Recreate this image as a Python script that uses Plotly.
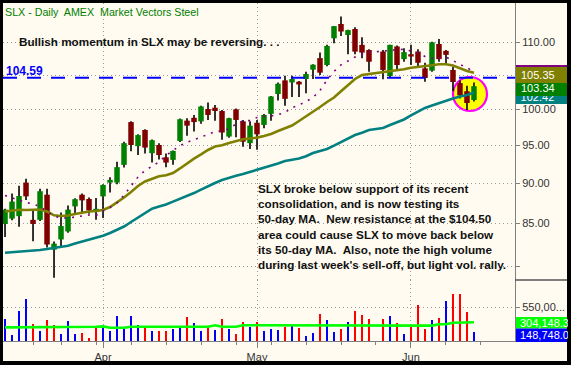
import math
import plotly.graph_objects as go

# ---------------- data ----------------
month_pos = [14, 36, 58]
month_labels = ["Apr", "May", "Jun"]
week_pos = [4, 8, 13, 18, 23, 28, 33, 38, 43, 48, 53, 58, 63, 68]

opens = [84.95, 85.6, 85.9, 90.1, 85.45, 85.45, 88.56, 81.9, 83.1, 84.05,
         87.1, 88.56, 88.03, 86.5, 88.35, 90.1, 90.1, 92.4, 98.2, 94.9,
         97.1, 93.95, 95.05, 93.4, 93.06, 95.6, 98.4, 98.8, 98.3, 100.04,
         100.23, 99.76, 96.2, 100.0, 98.3, 95.3, 98.1, 97.8, 99.35, 102.2,
         104.2, 103.9, 104.0, 104.4, 105.8, 107.55, 106.5, 110.63, 112.9, 111.15,
         112.1, 109.6, 108.8, None, 108.56, 104.85, 109.35, 107.4, 108.15, 108.56,
         106.0, 105.65, 109.74, 108.67, 105.76, 103.8, 102.6, 101.33]
highs = [86.8, 88.7, 89.7, 90.6, 86.7, 89.3, 89.3, 82.85, 86.35, 87.2,
         88.1, 88.7, 88.2, 88.15, 89.9, 90.8, 92.8, 95.5, 98.3, 96.5,
         97.2, 95.8, 95.3, 93.9, 94.3, 98.7, 98.75, 99.2, 100.5, 100.96,
         100.63, 99.9, 98.8, 100.1, 98.5, 98.3, 98.5, 99.35, 101.9, 103.9,
         104.9, 104.9, 104.1, 105.5, 106.6, 108.4, 109.6, 112.6, 114.1, 112.0,
         112.4, 110.8, 108.9, None, 108.8, 109.6, 109.5, 109.06, 109.6, 108.9,
         106.85, 110.1, 110.5, 108.8, 106.25, 104.2, 103.4, 103.9]
lows = [83.4, 85.4, 84.6, 87.9, 82.9, 85.3, 82.15, 78.7, 82.3, 83.9,
        86.3, 86.3, 86.2, 85.45, 85.67, 88.85, 89.9, 92.05, 94.2, 93.7,
        93.9, 92.7, 93.1, 92.1, 92.4, 95.45, 96.3, 96.9, 97.95, 98.5,
        98.4, 95.75, 96.05, 96.1, 94.8, 94.5, 94.4, 97.35, 98.4, 101.26,
        100.5, 101.75, 101.75, 102.3, 104.4, 105.0, 106.3, 109.85, 111.0, 108.15,
        108.15, 107.55, 105.5, None, 104.35, 104.6, 105.8, 107.0, 106.5, 106.15,
        103.98, 105.5, 107.0, 106.5, 102.6, 101.56, 99.9, 101.1]
closes = [86.7, 87.7, 88.4, 88.35, 84.95, 89.0, 82.5, 82.6, 84.7, 86.7,
          88.0, 87.85, 86.6, 86.8, 89.8, 90.45, 92.1, 95.3, 95.05, 96.4,
          94.7, 95.7, 93.7, 92.7, 94.25, 98.6, 97.7, 98.2, 100.4, 99.2,
          99.76, 96.75, 98.75, 98.5, 95.5, 97.7, 96.5, 99.2, 101.84, 103.7,
          101.5, 104.4, 103.6, 105.15, 106.55, 105.35, 109.43, 112.56, 111.7, 111.93,
          108.55, 108.4, 107.0, None, 105.76, 109.6, 106.5, 108.47, 107.8, 106.85,
          104.55, 110.0, 107.4, 108.05, 103.96, 102.0, 100.9, 103.34]

ma10 = [88.46, 88.15, 87.84, 87.59, 87.4, 87.08, 86.47, 85.92, 85.67, 85.67,
        85.8, 85.92, 86.04, 85.98, 86.53, 86.96, 87.52, 88.52, 89.66, 90.82,
        91.66, 92.25, 92.78, 93.64, 94.25, 94.97, 95.42, 95.73, 96.14, 96.48,
        96.9, 96.96, 97.27, 97.93, 98.35, 98.42, 98.84, 98.98, 99.05, 99.23,
        99.55, 100.22, 100.61, 101.12, 101.69, 102.71, 104.26, 105.53, 106.53, 107.11,
        107.72, 108.19, 108.49, 108.54, 108.6, 108.74, 108.84, 108.91, 108.65, 108.38,
        107.79, 107.51, 107.56, 107.72, 107.18, 106.57, 106.04, 105.59]
ma20 = [86.48, 86.6, 86.69, 86.65, 86.65, 86.71, 86.47, 86.0, 85.92, 85.97,
        86.16, 86.35, 86.47, 86.53, 86.65, 87.02, 87.58, 88.21, 88.9, 89.66,
        90.24, 90.6, 90.91, 91.04, 91.34, 91.93, 92.62, 93.22, 93.78, 94.38,
        94.85, 95.02, 95.32, 95.59, 95.83, 95.94, 96.05, 96.28, 96.56, 96.96,
        97.31, 97.72, 98.35, 98.98, 99.69, 100.33, 101.04, 101.69, 102.61, 103.45,
        104.41, 105.0, 105.15, 105.26, 105.41, 105.56, 105.68, 105.86, 106.1, 106.2,
        106.28, 106.46, 106.61, 106.61, 106.43, 106.0, 105.6, 105.35]
ma50 = [81.55, 81.6, 81.64, 81.7, 81.78, 81.86, 81.98, 82.1, 82.2, 82.36,
        82.62, 82.85, 83.09, 83.3, 83.55, 83.87, 84.22, 84.64, 85.19, 85.71,
        86.28, 86.82, 87.08, 87.33, 87.69, 88.02, 88.4, 88.77, 89.21, 89.66,
        90.05, 90.43, 90.73, 90.98, 91.21, 91.47, 91.73, 92.05, 92.31, 92.58,
        92.91, 93.04, 93.24, 93.54, 93.98, 94.25, 94.51, 94.97, 95.46, 96.0,
        96.41, 96.73, 97.1, 97.24, 97.38, 97.79, 98.14, 98.56, 99.13, 99.62,
        100.19, 100.54, 100.9, 101.19, 101.55, 101.85, 102.06, 102.42]

volume = [356000, 97000, 485000, 680000, 275000, 162000, 340000, 259000, 113000, 324000,
          113000, 129000, 49000, 227000, 243000, 162000, 404000, 210000, 404000, 259000,
          227000, 162000, 162000, 162000, 194000, 210000, 388000, 291000, 162000, 227000,
          178000, 356000, 194000, 113000, 307000, 227000, 307000, 162000, 194000, 178000,
          227000, 259000, 210000, 81000, 129000, 437000, 340000, 146000, 194000, 307000,
          485000, 421000, 356000, None, 356000, 404000, 291000, 113000, 227000, 582000,
          194000, 340000, 372000, 647000, 760000, 760000, 469000, 148748]
vol_up = [1, 1, 1, 1, 0, 1, 0, 0, 1, 1,
          1, 0, 0, 0, 1, 1, 1, 1, 1, 1,
          0, 1, 0, 0, 1, 1, 0, 1, 1, 0,
          1, 0, 1, 0, 0, 1, 0, 1, 1, 1,
          0, 1, 0, 1, 1, 0, 1, 1, 0, 1,
          0, 0, 0, None, 0, 1, 0, 1, 0, 0,
          0, 1, 0, 1, 0, 0, 0, 1]
vol_avg = [220000, 220000, 220000, 220000, 220000, 231000, 231000, 231000, 231000, 231000,
           231000, 231000, 231000, 231000, 237000, 215000, 215000, 215000, 231000, 231000,
           231000, 231000, 231000, 231000, 231000, 231000, 231000, 231000, 231000, 231000,
           254000, 231000, 231000, 231000, 254000, 254000, 254000, 254000, 254000, 254000,
           254000, 254000, 249000, 249000, 249000, 249000, 249000, 249000, 249000, 249000,
           249000, 249000, 249000, 249000, 249000, 249000, 249000, 249000, 249000, 249000,
           249000, 249000, 270000, 270000, 296000, 296000, 296000, 304148]

resistance = 104.59
price_ticks = [80, 85, 90, 95, 100, 105, 110]
price_tick_text = ["", "85.00", "90.00", "95.00", "100.00", "", "110.00"]
vol_ticks = [550000]
vol_tick_text = ["550,00..."]

# ---------------- helpers ----------------
W, H = 571, 365
FONT = "Liberation Sans, Arial, sans-serif"
BG = "#FFFBF0"


def px(x):
    return x / W


def py(y):
    return 1 - y / H


n = len(closes)
idx = list(range(n))
x_range = [-0.29, 72.86]
X0_PX, X1_PX = 3, 515
Y_TOP_PX, Y_BOT_PX = 3, 280

y_lo = math.log10(110 * math.exp(-(280 - 42.3) / 703))
y_hi = math.log10(110 * math.exp((42.3 - 3) / 703))


def pix_to_x(xp):
    return x_range[0] + (xp - X0_PX) / (X1_PX - X0_PX) * (x_range[1] - x_range[0])


def pix_to_price(yp):
    frac = (Y_BOT_PX - yp) / (Y_BOT_PX - Y_TOP_PX)
    return 10 ** (y_lo + frac * (y_hi - y_lo))


fig = go.Figure()

# wicks
wx, wy = [], []
for i in idx:
    if highs[i] is None:
        continue
    wx += [i, i, None]
    wy += [lows[i], highs[i], None]
fig.add_trace(go.Scatter(x=wx, y=wy, mode="lines", line=dict(color="black", width=1.6),
                         xaxis="x", yaxis="y", hoverinfo="skip"))

# bodies
for up, col in [(True, "#008000"), (False, "#800000")]:
    bx, by = [], []
    for i in idx:
        if opens[i] is None:
            continue
        if (closes[i] >= opens[i]) == up:
            bx += [i, i, None]
            by += [opens[i], closes[i], None]
    fig.add_trace(go.Scatter(x=bx, y=by, mode="lines", line=dict(color=col, width=5.5),
                             xaxis="x", yaxis="y", hoverinfo="skip"))

# moving averages
fig.add_trace(go.Scatter(x=idx, y=ma50, mode="lines", line=dict(color="#008080", width=2.6),
                         xaxis="x", yaxis="y"))
fig.add_trace(go.Scatter(x=idx, y=ma20, mode="lines", line=dict(color="#808000", width=2.6),
                         xaxis="x", yaxis="y"))
fig.add_trace(go.Scatter(x=idx, y=ma10, mode="lines",
                         line=dict(color="#800080", width=1.6, dash="2px,6px"),
                         xaxis="x", yaxis="y"))

# resistance line
fig.add_trace(go.Scatter(x=x_range, y=[resistance, resistance], mode="lines",
                         line=dict(color="#0000FF", width=2, dash="14px,10px"),
                         xaxis="x", yaxis="y"))

# 50-day value label (partly hidden beneath the other badges, as in the reference)
fig.add_trace(go.Scatter(x=[pix_to_x(514.5)], y=[pix_to_price(98.5)], mode="text",
                         text=["  %.2f" % ma50[-1]], textposition="middle right",
                         textfont=dict(family=FONT, size=11, color="white"),
                         cliponaxis=False, xaxis="x", yaxis="y", hoverinfo="skip"))

# volume
vol_colors = ["#0000FF" if u == 1 else "#FF0000" for u in vol_up]
fig.add_trace(go.Bar(x=idx, y=volume, marker=dict(color=vol_colors, line=dict(width=0)),
                     width=0.34, xaxis="x2", yaxis="y2"))
fig.add_trace(go.Scatter(x=idx, y=vol_avg, mode="lines", line=dict(color="#00FF00", width=2.6),
                         xaxis="x2", yaxis="y2"))

grid = dict(showgrid=True, gridcolor="#9a9a9a", gridwidth=1, griddash="1px,3px",
            automargin=False)
tickfont = dict(family=FONT, size=11, color="#333333")

fig.update_layout(
    template="none",
    width=W, height=H, margin=dict(l=0, r=0, t=0, b=0, pad=0, autoexpand=False),
    paper_bgcolor=BG, plot_bgcolor=BG, showlegend=False, bargap=0,
    xaxis=dict(domain=[px(X0_PX), px(X1_PX)], range=x_range, anchor="y",
               tickvals=month_pos, showticklabels=False, ticks="",
               zeroline=False, showline=False, **grid),
    yaxis=dict(type="log", domain=[py(Y_BOT_PX), py(Y_TOP_PX)], range=[y_lo, y_hi], side="right",
               anchor="x", tickvals=price_ticks, ticktext=price_tick_text,
               ticks="outside", ticklen=4, tickcolor="#808080", tickfont=tickfont,
               showline=True, linecolor="#808080", linewidth=1, zeroline=False, **grid),
    xaxis2=dict(domain=[px(X0_PX), px(X1_PX)], range=x_range, anchor="y2",
                tickvals=month_pos, ticktext=month_labels, ticks="outside", ticklen=6,
                tickcolor="#808080", tickfont=tickfont, showline=True,
                linecolor="#808080", linewidth=1, zeroline=False,
                minor=dict(tickvals=week_pos, ticks="outside", ticklen=3,
                           tickcolor="#808080", showgrid=False),
                **grid),
    yaxis2=dict(domain=[py(341), py(Y_BOT_PX)], range=[0, 986800], side="right", anchor="x2",
                tickvals=vol_ticks, ticktext=vol_tick_text, ticks="outside", ticklen=4,
                tickcolor="#808080", tickfont=tickfont, showline=True,
                linecolor="#808080", linewidth=1, zeroline=False, **grid),
)

shapes = []
# highlight circle around last bars
shapes.append(dict(type="circle", xref="x", yref="paper",
                   x0=64.0, x1=68.86, y0=py(111), y1=py(77),
                   fillcolor="#FFFF00", line=dict(color="#FF00FF", width=2.2), layer="below"))
# value badges on price axis
badge = [("#800080", 65, 68), ("#008080", 90, 104), ("#008000", 83, 96), ("#808000", 67, 83)]
for k, (col, y0, y1) in enumerate(badge):
    shapes.append(dict(type="rect", xref="paper", yref="paper", x0=px(516), x1=px(567),
                       y0=py(y1), y1=py(y0), fillcolor=col, line=dict(width=0),
                       layer="below" if k == 1 else "above"))
# volume badges
for col, y0, y1 in [("#00FF00", 317, 328.5), ("#0000FF", 328.5, 342)]:
    shapes.append(dict(type="rect", xref="paper", yref="paper", x0=px(516), x1=px(567),
                       y0=py(y1), y1=py(y0), fillcolor=col, line=dict(width=0), layer="above"))
# panel separator on the axis strip
shapes.append(dict(type="line", xref="paper", yref="paper", x0=px(515), x1=px(567),
                   y0=py(280), y1=py(280), line=dict(color="#555555", width=1.5)))
# black frame
for x0, x1, y0, y1 in [(0, 3, 0, 365), (567, 571, 0, 365), (0, 571, 361, 365), (0, 571, 0, 3)]:
    shapes.append(dict(type="rect", xref="paper", yref="paper", x0=px(x0), x1=px(x1),
                       y0=py(y1), y1=py(y0), fillcolor="black", line=dict(width=0), layer="above"))
fig.update_layout(shapes=shapes)

bold = dict(family=FONT, size=11.7, color="#111111")
ann = []
ann.append(dict(x=px(3), y=py(12), xref="paper", yref="paper", xanchor="left", yanchor="middle",
                text="SLX - Daily  AMEX  Market Vectors Steel", showarrow=False,
                font=dict(family=FONT, size=10.7, color="#008000")))
ann.append(dict(x=px(17), y=py(42), xref="paper", yref="paper", xanchor="left", yanchor="middle",
                text="<b>Bullish momentum in SLX may be reversing. . .</b>", showarrow=False,
                font=bold))
ann.append(dict(x=px(4), y=math.log10(resistance), xref="paper", yref="y", xanchor="left",
                yanchor="bottom", yshift=-2, text="<b>%.2f</b>" % resistance, showarrow=False,
                font=dict(family=FONT, size=12, color="#0000FF")))
block = ("SLX broke below support of its recent<br>"
         "consolidation, and is now testing its<br>"
         "50-day MA.  New resistance at the $104.50<br>"
         "area could cause SLX to move back below<br>"
         "its 50-day MA.  Also, note the high volume<br>"
         "during last week's sell-off, but light vol. rally.")
ann.append(dict(x=px(256), y=py(180), xref="paper", yref="paper", xanchor="left", yanchor="top",
                align="left", text="<b>" + block + "</b>", showarrow=False, font=bold))

white = dict(family=FONT, size=11, color="white")
ann.append(dict(x=px(519), y=py(75), xref="paper", yref="paper", xanchor="left", yanchor="middle",
                text="%.2f" % ma20[-1], showarrow=False, font=white))
ann.append(dict(x=px(519), y=py(88.5), xref="paper", yref="paper", xanchor="left", yanchor="middle",
                text="%.2f" % closes[-1], showarrow=False, font=white))
ann.append(dict(x=px(519), y=py(323), xref="paper", yref="paper", xanchor="left", yanchor="middle",
                width=48, align="left", borderpad=0,
                text="{:,.1f}".format(vol_avg[-1] + 0.3), showarrow=False, font=white))
ann.append(dict(x=px(519), y=py(335), xref="paper", yref="paper", xanchor="left", yanchor="middle",
                width=48, align="left", borderpad=0,
                text="{:,.1f}".format(volume[-1]), showarrow=False, font=white))
fig.update_layout(annotations=ann)

fig.write_html("out.html", config={"displayModeBar": False},
               post_script="document.body.style.margin='0';document.body.style.padding='0';"
                           "document.body.style.overflow='hidden';")
